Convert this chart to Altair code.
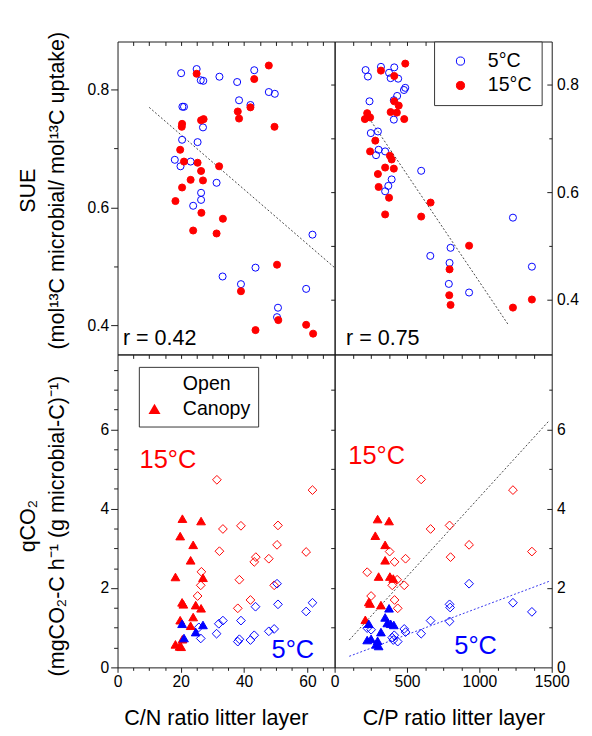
import altair as alt
import pandas as pd

FONT = "Liberation Sans"
RED = "#ff0000"
BLUE = "#0000ff"
FRAME = "#1a1a1a"
W, H = 222, 320

# ---------------- data ----------------
# Top-left: SUE vs C/N
tl5_x = [20.1, 25.0, 26.3, 27.1, 32.2, 37.8, 43.2, 47.8, 49.7, 38.4, 42.0, 20.5, 21.0, 27.0, 20.4,
         25.3, 18.1, 19.9, 23.1, 31.3, 26.4, 26.4, 23.9, 61.6, 43.6, 33.2, 39.0, 59.6, 50.7, 50.4]
tl5_y = [0.828, 0.835, 0.816, 0.815, 0.822, 0.813, 0.833, 0.796, 0.793, 0.782, 0.774, 0.771, 0.771, 0.736, 0.715,
         0.711, 0.681, 0.670, 0.678, 0.642, 0.625, 0.613, 0.603, 0.554, 0.498, 0.483, 0.470, 0.462, 0.430, 0.414]
tl15_x = [47.8, 25.0, 43.2, 38.0, 38.4, 42.0, 26.4, 27.2, 20.4, 20.3, 49.6, 19.8, 21.0, 25.3, 26.4,
          32.1, 23.1, 27.0, 20.4, 18.3, 26.5, 33.3, 23.9, 31.3, 50.4, 39.0, 50.8, 43.6, 59.6, 61.8]
tl15_y = [0.841, 0.827, 0.818, 0.763, 0.751, 0.770, 0.748, 0.750, 0.742, 0.737, 0.737, 0.698, 0.678, 0.676, 0.662,
          0.670, 0.647, 0.646, 0.634, 0.611, 0.591, 0.581, 0.561, 0.556, 0.503, 0.458, 0.409, 0.392, 0.401, 0.386]
tl_line_x = [10.0, 68.6]
tl_line_y = [0.770, 0.498]

# Top-right: SUE vs C/P
tr5_x = [214, 230, 320, 376, 387, 412, 439, 488, 479, 432, 409, 241, 409, 250, 299,
         304, 286, 349, 394, 371, 349, 598, 1232, 801, 661, 794, 1363, 789, 929]
tr5_y = [0.827, 0.815, 0.833, 0.822, 0.812, 0.832, 0.811, 0.794, 0.790, 0.779, 0.771, 0.769, 0.735, 0.710, 0.713,
         0.679, 0.669, 0.676, 0.624, 0.612, 0.602, 0.640, 0.553, 0.497, 0.482, 0.469, 0.462, 0.430, 0.414]
tr15_x = [488, 320, 412, 225, 232, 209, 245, 412, 443, 387, 430, 481, 281, 245, 382,
          394, 349, 409, 299, 304, 376, 349, 663, 598, 929, 794, 792, 801, 1232, 1363]
tr15_y = [0.839, 0.826, 0.816, 0.747, 0.741, 0.736, 0.739, 0.769, 0.761, 0.749, 0.748, 0.736, 0.696, 0.676, 0.668,
          0.661, 0.646, 0.644, 0.634, 0.610, 0.590, 0.559, 0.581, 0.555, 0.501, 0.457, 0.409, 0.391, 0.386, 0.401]
tr_line_x = [252, 1203]
tr_line_y = [0.732, 0.353]

# Bottom-left: qCO2 vs C/N
bl_open15_x = [31.4, 61.6, 33.3, 39.0, 50.7, 50.4, 32.2, 43.7, 43.2, 47.8, 59.6, 26.5, 26.3, 38.5, 25.3, 49.5, 42.0, 38.0]
bl_open15_y = [4.73, 4.47, 3.49, 3.57, 3.58, 3.09, 2.93, 2.78, 2.66, 2.74, 2.91, 2.41, 2.07, 2.21, 1.80, 2.07, 1.70, 1.49]
bl_open5_x = [50.4, 50.7, 43.6, 61.6, 59.6, 39.0, 33.3, 32.0, 25.7, 31.3, 26.3, 38.5, 38.0, 43.2, 42.0, 47.8, 49.5]
bl_open5_y = [2.11, 1.59, 1.53, 1.63, 1.41, 1.18, 1.18, 1.10, 1.01, 0.85, 0.73, 0.71, 0.65, 0.81, 0.69, 0.91, 0.97]
bl_can15_x = [20.5, 26.4, 19.8, 23.9, 23.1, 18.3, 27.0, 20.4, 20.8, 24.7, 26.4, 19.8, 23.9, 23.1, 20.5, 18.3, 19.6, 20.1]
bl_can15_y = [3.75, 3.69, 3.31, 3.09, 2.70, 2.28, 2.26, 1.64, 1.59, 1.57, 1.49, 1.19, 1.27, 1.05, 0.71, 0.58, 0.53, 0.52]
bl_can5_x = [20.4, 27.0, 24.7, 21.0]
bl_can5_y = [1.10, 1.07, 0.89, 0.74]

# Bottom-right: qCO2 vs C/P
br_open15_x = [598, 1232, 663, 794, 929, 801, 1363, 380, 414, 490, 225, 398, 432, 481, 252, 414, 436]
br_open15_y = [4.74, 4.47, 3.49, 3.58, 3.09, 2.78, 2.92, 2.92, 2.66, 2.74, 2.40, 2.07, 2.21, 2.07, 1.80, 1.70, 1.49]
br_open5_x = [929, 794, 798, 1232, 1363, 663, 794, 598, 490, 481, 398, 412, 436, 225, 252, 405]
br_open5_y = [2.11, 1.59, 1.51, 1.63, 1.40, 1.18, 1.16, 0.85, 0.89, 0.97, 0.75, 0.81, 0.65, 0.99, 0.95, 0.69]
br_can15_x = [297, 376, 281, 349, 349, 304, 382, 405, 236, 245, 320, 212]
br_can15_y = [3.74, 3.69, 3.32, 3.09, 2.70, 2.29, 2.29, 2.24, 1.65, 1.61, 1.57, 1.20]
br_can5_x = [376, 236, 349, 364, 409, 320, 225, 252, 297, 304, 286, 387]
br_can5_y = [1.49, 1.10, 1.26, 1.12, 1.07, 0.89, 0.69, 0.72, 0.67, 0.54, 0.58, 1.10]
br_line15_x = [101, 1482]
br_line15_y = [0.69, 6.22]
br_line5_x = [101, 1482]
br_line5_y = [0.28, 2.17]

TEMPS = ["5°C", "15°C"]
FCATS = ["Open", "Canopy", "Canopy5"]


def temp_df(x5, y5, x15, y15):
    return pd.DataFrame({"x": x5 + x15, "y": y5 + y15,
                         "temp": [TEMPS[0]] * len(x5) + [TEMPS[1]] * len(x15)})


def q_df(o15x, o15y, o5x, o5y, c15x, c15y, c5x, c5y):
    return pd.DataFrame({
        "x": o15x + o5x + c15x + c5x,
        "y": o15y + o5y + c15y + c5y,
        "temp": ["15°C"] * len(o15x) + ["5°C"] * len(o5x) + ["15°C"] * len(c15x) + ["5°C"] * len(c5x),
        "fcat": ["Open"] * (len(o15x) + len(o5x)) + ["Canopy"] * len(c15x) + ["Canopy5"] * len(c5x),
    })


tl_df = temp_df(tl5_x, tl5_y, tl15_x, tl15_y)
tr_df = temp_df(tr5_x, tr5_y, tr15_x, tr15_y)
bl_df = q_df(bl_open15_x, bl_open15_y, bl_open5_x, bl_open5_y, bl_can15_x, bl_can15_y, bl_can5_x, bl_can5_y)
br_df = q_df(br_open15_x, br_open15_y, br_open5_x, br_open5_y, br_can15_x, br_can15_y, br_can5_x, br_can5_y)

# ---------------- scales ----------------
xs_cn = alt.Scale(domain=[0, 68.6], nice=False, zero=False)
xs_cp = alt.Scale(domain=[0, 1500], nice=False, zero=False)
ys_tl = alt.Scale(domain=[0.3507, 0.8817], nice=False, zero=False)
ys_tr = alt.Scale(domain=[0.299, 0.88], nice=False, zero=False)
ys_q = alt.Scale(domain=[0, 7.89], nice=False, zero=False)


def ax(**kw):
    base = dict(grid=False, domain=False, labels=False, title=None, tickColor=FRAME, tickWidth=1,
                labelFlush=False, labelFont=FONT, labelFontSize=16, labelColor="black", labelOverlap=False)
    base.update(kw)
    return alt.Axis(**base)


TITLE_Y = dict(titleFont=FONT, titleFontSize=22, titleFontWeight="normal", titleColor="black",
               titleAngle=270, titleAlign="center", titleBaseline="middle", titleLineHeight=29, titleX=-91.5)
TITLE_X = dict(titleFont=FONT, titleFontSize=22, titleFontWeight="normal", titleColor="black",
               titleAlign="center", titleBaseline="alphabetic", titleY=58)


def carrier(df, xsc, ysc, xaxis=None, yaxis=None):
    return alt.Chart(df).mark_point(opacity=0, size=1).encode(
        x=alt.X("x:Q", scale=xsc, axis=xaxis),
        y=alt.Y("y:Q", scale=ysc, axis=yaxis),
    )


def dotted(xv, yv, xsc, ysc, color):
    return alt.Chart(pd.DataFrame({"x": xv, "y": yv})).mark_line(
        color=color, strokeDash=[2, 2], strokeWidth=1).encode(
        x=alt.X("x:Q", scale=xsc, axis=None), y=alt.Y("y:Q", scale=ysc, axis=None))


def note(text, x, y, size, color):
    return alt.Chart(pd.DataFrame({"t": [text]})).mark_text(
        align="left", baseline="alphabetic", fontSize=size, font=FONT, color=color).encode(
        text="t:N", x=alt.value(x), y=alt.value(y))


# labels get two trailing no-break spaces so the legend box is as wide as in the original
WIDEN = "datum.label + '\u00a0\u00a0'"

LEG_TR = alt.Legend(title=None, orient="none", legendX=101.7, legendY=0, padding=10,
                    fillColor="white", strokeColor="#333333", labelFont=FONT, labelFontSize=20,
                    labelColor="black", symbolSize=70, symbolStrokeWidth=1, symbolOffset=7,
                    labelOffset=18, rowPadding=5, labelExpr=WIDEN)
LEG_BL = alt.Legend(title=None, orient="none", legendX=21.8, legendY=12.7, padding=8,
                    fillColor="white", strokeColor="#333333", labelFont=FONT, labelFontSize=20,
                    labelColor="black", symbolSize=150, symbolStrokeColor=RED, symbolStrokeWidth=1,
                    symbolOffset=-2, labelOffset=19, rowPadding=5, values=["Open", "Canopy"], labelExpr=WIDEN)


def temp_points(df, xsc, ysc, legend):
    return alt.Chart(df).mark_point(shape="circle", size=52, strokeWidth=1, opacity=1, filled=True).encode(
        x=alt.X("x:Q", scale=xsc, axis=None),
        y=alt.Y("y:Q", scale=ysc, axis=None),
        stroke=alt.Stroke("temp:N", scale=alt.Scale(domain=TEMPS, range=[BLUE, RED]), legend=legend),
        fill=alt.Fill("temp:N", scale=alt.Scale(domain=TEMPS, range=["transparent", RED]), legend=legend),
    )


def q_points(df, xsc, legend):
    return alt.Chart(df).mark_point(size=80, strokeWidth=1, opacity=1, filled=True).encode(
        x=alt.X("x:Q", scale=xsc, axis=None),
        y=alt.Y("y:Q", scale=ys_q, axis=None),
        stroke=alt.Stroke("temp:N", scale=alt.Scale(domain=TEMPS, range=[BLUE, RED]), legend=None),
        fill=alt.Fill("fcat:N", scale=alt.Scale(domain=FCATS, range=["transparent", RED, BLUE]), legend=legend),
        shape=alt.Shape("fcat:N", scale=alt.Scale(domain=FCATS, range=["diamond", "triangle-up", "triangle-up"]),
                        legend=legend),
    )


def panel(*layers):
    return alt.layer(*layers).resolve_axis(x="independent", y="independent").properties(width=W, height=H)


cn_ticks = list(range(5, 70, 5))
cp_ticks = list(range(125, 1500, 125))

# ---------------- top-left ----------------
TL = panel(
    carrier(tl_df, xs_cn, ys_tl,
            xaxis=ax(orient="bottom", offset=-H, values=cn_ticks, tickSize=4),
            yaxis=ax(orient="left", values=[0.4, 0.6, 0.8], labels=True, format=".1f", tickSize=7,
                     labelPadding=2, title=["SUE", "(mol¹³C microbial/ mol¹³C uptake)"], titleY=152, **TITLE_Y)),
    carrier(tl_df, xs_cn, ys_tl,
            xaxis=ax(orient="bottom", values=cn_ticks, tickSize=4),
            yaxis=ax(orient="left", values=[0.5, 0.7], tickSize=4)),
    dotted(tl_line_x, tl_line_y, xs_cn, ys_tl, "#444444"),
    temp_points(tl_df, xs_cn, ys_tl, None),
    note("r = 0.42", 5.5, 310, 22, "black"),
)

# ---------------- top-right ----------------
TR = panel(
    carrier(tr_df, xs_cp, ys_tr,
            xaxis=ax(orient="bottom", offset=-H, values=cp_ticks, tickSize=4),
            yaxis=ax(orient="left", values=[0.4, 0.5, 0.6, 0.7, 0.8], tickSize=4)),
    carrier(tr_df, xs_cp, ys_tr,
            xaxis=ax(orient="bottom", values=cp_ticks, tickSize=4),
            yaxis=ax(orient="right", values=[0.4, 0.6, 0.8], labels=True, format=".1f", ticks=False,
                     tickSize=0, labelPadding=5)),
    carrier(tr_df, xs_cp, ys_tr, yaxis=ax(orient="left", offset=-W, values=[0.4, 0.6, 0.8], tickSize=5)),
    carrier(tr_df, xs_cp, ys_tr, yaxis=ax(orient="left", offset=-W, values=[0.5, 0.7], tickSize=3)),
    dotted(tr_line_x, tr_line_y, xs_cp, ys_tr, "#444444"),
    temp_points(tr_df, xs_cp, ys_tr, LEG_TR),
    note("r = 0.75", 11.7, 310, 22, "black"),
)

# ---------------- bottom-left ----------------
BL = panel(
    carrier(bl_df, xs_cn, ys_q,
            xaxis=ax(orient="bottom", values=[0, 20, 40, 60], labels=True, format="d", tickSize=5, labelPadding=2,
                     title="C/N ratio litter layer", titleX=100.5, **TITLE_X),
            yaxis=ax(orient="left", values=[0, 2, 4, 6], labels=True, format="d", tickSize=7, labelPadding=2,
                     title=["qCO₂", "(mgCO₂-C h⁻¹ (g microbial-C)⁻¹)"], titleY=175, **TITLE_Y)),
    carrier(bl_df, xs_cn, ys_q,
            xaxis=ax(orient="bottom", values=[5, 10, 15, 25, 30, 35, 45, 50, 55, 65], tickSize=3),
            yaxis=ax(orient="left", values=[0.5, 1, 1.5, 2.5, 3, 3.5, 4.5, 5, 5.5, 6.5, 7, 7.5], tickSize=4)),
    q_points(bl_df, xs_cn, LEG_BL),
    note("15°C", 22.5, 116, 26, RED),
    note("5°C", 157.5, 310, 26, BLUE),
)

# ---------------- bottom-right ----------------
BR = panel(
    carrier(br_df, xs_cp, ys_q,
            xaxis=ax(orient="bottom", values=[0, 500, 1000, 1500], labels=True, format="d", tickSize=5,
                     labelPadding=2, title="C/P ratio litter layer", titleX=121.5, **TITLE_X),
            yaxis=ax(orient="left", values=[1, 2, 3, 4, 5, 6, 7], tickSize=4)),
    carrier(br_df, xs_cp, ys_q,
            xaxis=ax(orient="bottom", values=[125, 250, 375, 625, 750, 875, 1125, 1250, 1375], tickSize=3),
            yaxis=ax(orient="right", values=[0, 2, 4, 6], labels=True, format="d", ticks=False, tickSize=0,
                     labelPadding=5)),
    carrier(br_df, xs_cp, ys_q, yaxis=ax(orient="left", offset=-W, values=[2, 4, 6], tickSize=5)),
    carrier(br_df, xs_cp, ys_q, yaxis=ax(orient="left", offset=-W, values=[1, 3, 5, 7], tickSize=3)),
    dotted(br_line15_x, br_line15_y, xs_cp, ys_q, "#444444"),
    dotted(br_line5_x, br_line5_y, xs_cp, ys_q, "#3333ee"),
    q_points(br_df, xs_cp, None),
    note("15°C", 14, 112, 26, RED),
    note("5°C", 122.4, 306, 26, BLUE),
)

IND = dict(stroke="independent", fill="independent", shape="independent")

chart = alt.concat(TL, TR, BL, BR, columns=2, spacing=0, bounds="flush").resolve_scale(**IND).properties(
    padding={"left": 9, "top": 14, "right": 5, "bottom": 5}
).configure_view(stroke=FRAME, strokeWidth=1)

chart.save("out.html", embed_options={"renderer": "svg", "actions": False})
